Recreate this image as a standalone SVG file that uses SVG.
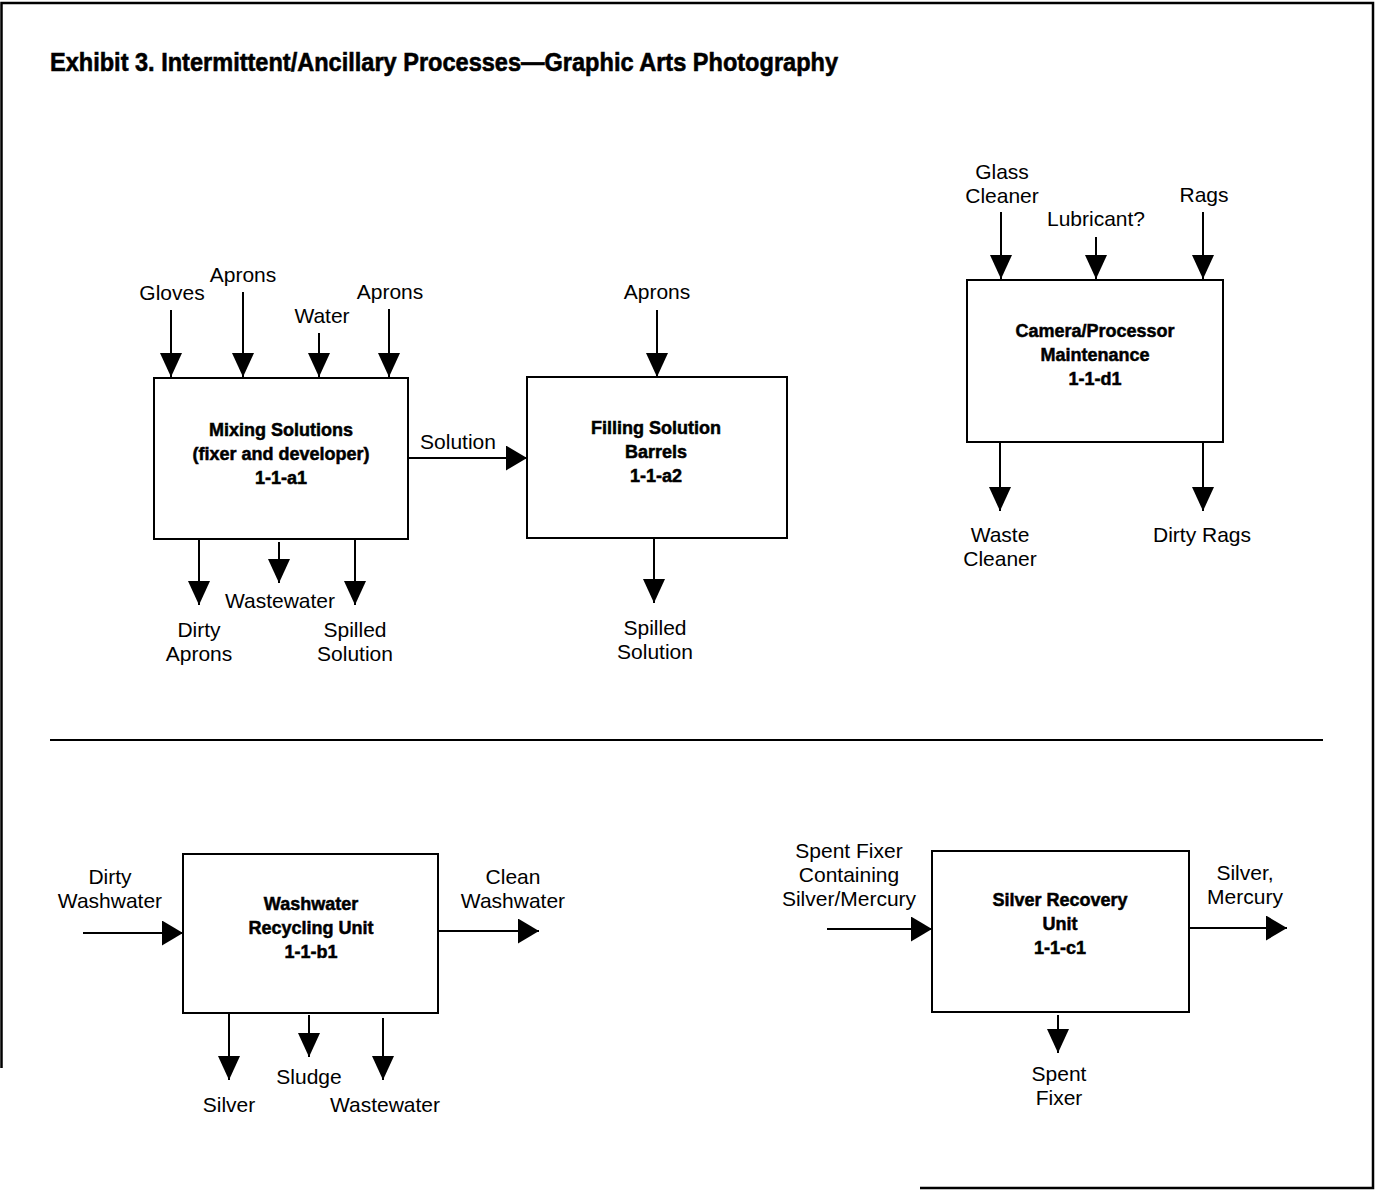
<svg xmlns="http://www.w3.org/2000/svg" width="1378" height="1192" viewBox="0 0 1378 1192">
<style>
.lbl{font-family:"Liberation Sans",Arial,sans-serif;font-size:21px;fill:#000;text-anchor:middle}
.node{fill:#fff;stroke:#000;stroke-width:2}
.ntxt{font-family:"Liberation Sans",Arial,sans-serif;font-size:18px;font-weight:900;fill:#000;stroke:#000;stroke-width:0.5;text-anchor:middle}
.c line{stroke:#000;stroke-width:2}
.v{marker-end:url(#av)}
.h{marker-end:url(#ah)}
</style>
<defs>
<marker id="av" markerUnits="userSpaceOnUse" markerWidth="24" markerHeight="22" refX="24" refY="11" orient="auto"><path d="M0,0 L24,11 L0,22 z" fill="#000"/></marker>
<marker id="ah" markerUnits="userSpaceOnUse" markerWidth="21" markerHeight="25" refX="21" refY="12.5" orient="auto"><path d="M0,0 L21,12.5 L0,25 z" fill="#000"/></marker>
</defs>
<rect width="1378" height="1192" fill="#fff"/>
<path d="M1.5,1068 L1.5,3 L1373,3 L1373,1188 L920,1188" fill="none" stroke="#000" stroke-width="2.5"/>
<text x="50" y="71" font-family="'Liberation Sans',Arial,sans-serif" font-size="26" font-weight="bold" stroke="#000" stroke-width="0.6" textLength="788" lengthAdjust="spacingAndGlyphs">Exhibit 3. Intermittent/Ancillary Processes—Graphic Arts Photography</text>
<line x1="50" y1="740" x2="1323" y2="740" stroke="#000" stroke-width="1.8"/>

<g id="mixing">
<rect class="node" x="154" y="378" width="254" height="161"/>
<text class="ntxt" x="281" y="436">Mixing Solutions</text>
<text class="ntxt" x="281" y="460">(fixer and developer)</text>
<text class="ntxt" x="281" y="484">1-1-a1</text>
</g>
<g id="filling">
<rect class="node" x="527" y="377" width="260" height="161"/>
<text class="ntxt" x="656" y="434">Filling Solution</text>
<text class="ntxt" x="656" y="458">Barrels</text>
<text class="ntxt" x="656" y="482">1-1-a2</text>
</g>
<g id="camera">
<rect class="node" x="967" y="280" width="256" height="162"/>
<text class="ntxt" x="1095" y="337">Camera/Processor</text>
<text class="ntxt" x="1095" y="361">Maintenance</text>
<text class="ntxt" x="1095" y="385">1-1-d1</text>
</g>
<g id="washwater">
<rect class="node" x="183" y="854" width="255" height="159"/>
<text class="ntxt" x="311" y="910">Washwater</text>
<text class="ntxt" x="311" y="934">Recycling Unit</text>
<text class="ntxt" x="311" y="958">1-1-b1</text>
</g>
<g id="silver">
<rect class="node" x="932" y="851" width="257" height="161"/>
<text class="ntxt" x="1060" y="906">Silver Recovery</text>
<text class="ntxt" x="1060" y="930">Unit</text>
<text class="ntxt" x="1060" y="954">1-1-c1</text>
</g>

<g id="connectors" class="c">
<line class="v" x1="171" y1="310" x2="171" y2="377"/>
<line class="v" x1="243" y1="292" x2="243" y2="377"/>
<line class="v" x1="319" y1="333" x2="319" y2="377"/>
<line class="v" x1="389" y1="309" x2="389" y2="377"/>
<line class="v" x1="199" y1="539" x2="199" y2="605"/>
<line class="v" x1="279" y1="542" x2="279" y2="583"/>
<line class="v" x1="355" y1="539" x2="355" y2="605"/>
<line class="h" x1="408" y1="458" x2="527" y2="458"/>
<line class="v" x1="657" y1="310" x2="657" y2="377"/>
<line class="v" x1="654" y1="538" x2="654" y2="603"/>
<line class="v" x1="1001" y1="212" x2="1001" y2="279"/>
<line class="v" x1="1096" y1="237" x2="1096" y2="279"/>
<line class="v" x1="1203" y1="212" x2="1203" y2="279"/>
<line class="v" x1="1000" y1="442" x2="1000" y2="511"/>
<line class="v" x1="1203" y1="442" x2="1203" y2="511"/>
<line class="h" x1="83" y1="933" x2="183" y2="933"/>
<line class="h" x1="438" y1="931" x2="539" y2="931"/>
<line class="v" x1="229" y1="1013" x2="229" y2="1080"/>
<line class="v" x1="309" y1="1015" x2="309" y2="1057"/>
<line class="v" x1="383" y1="1018" x2="383" y2="1080"/>
<line class="h" x1="827" y1="929" x2="932" y2="929"/>
<line class="h" x1="1189" y1="928" x2="1287" y2="928"/>
<line class="v" x1="1058" y1="1015" x2="1058" y2="1053"/>
</g>

<g id="labels">
<text class="lbl" x="172" y="300">Gloves</text>
<text class="lbl" x="243" y="282">Aprons</text>
<text class="lbl" x="322" y="323">Water</text>
<text class="lbl" x="390" y="299">Aprons</text>
<text class="lbl" x="280" y="608">Wastewater</text>
<text class="lbl" x="199" y="637">Dirty</text>
<text class="lbl" x="199" y="661">Aprons</text>
<text class="lbl" x="355" y="637">Spilled</text>
<text class="lbl" x="355" y="661">Solution</text>
<text class="lbl" x="458" y="449">Solution</text>
<text class="lbl" x="657" y="299">Aprons</text>
<text class="lbl" x="655" y="635">Spilled</text>
<text class="lbl" x="655" y="659">Solution</text>
<text class="lbl" x="1002" y="179">Glass</text>
<text class="lbl" x="1002" y="203">Cleaner</text>
<text class="lbl" x="1096" y="226">Lubricant?</text>
<text class="lbl" x="1204" y="202">Rags</text>
<text class="lbl" x="1000" y="542">Waste</text>
<text class="lbl" x="1000" y="566">Cleaner</text>
<text class="lbl" x="1202" y="542">Dirty Rags</text>
<text class="lbl" x="110" y="884">Dirty</text>
<text class="lbl" x="110" y="908">Washwater</text>
<text class="lbl" x="513" y="884">Clean</text>
<text class="lbl" x="513" y="908">Washwater</text>
<text class="lbl" x="229" y="1112">Silver</text>
<text class="lbl" x="309" y="1084">Sludge</text>
<text class="lbl" x="385" y="1112">Wastewater</text>
<text class="lbl" x="849" y="858">Spent Fixer</text>
<text class="lbl" x="849" y="882">Containing</text>
<text class="lbl" x="849" y="906">Silver/Mercury</text>
<text class="lbl" x="1245" y="880">Silver,</text>
<text class="lbl" x="1245" y="904">Mercury</text>
<text class="lbl" x="1059" y="1081">Spent</text>
<text class="lbl" x="1059" y="1105">Fixer</text>
</g>
</svg>
